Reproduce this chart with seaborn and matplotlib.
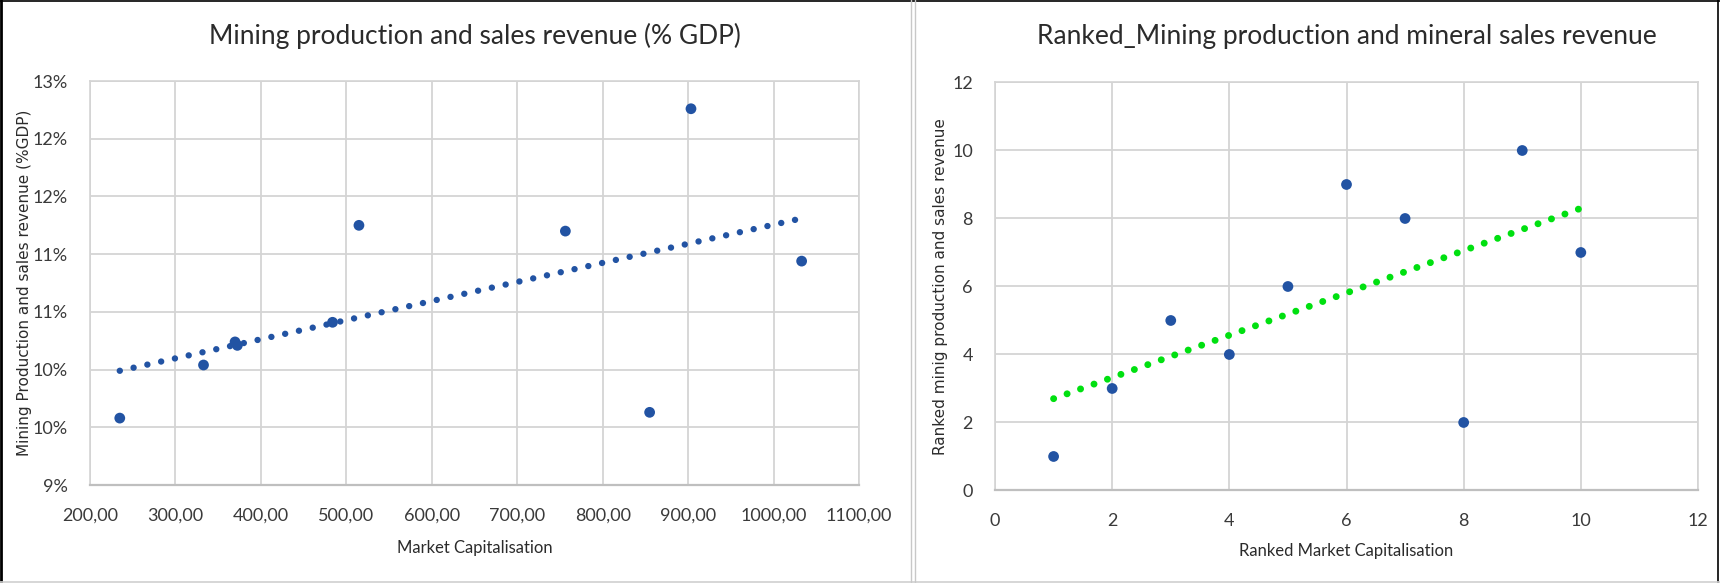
import numpy as np
import pandas as pd
import seaborn as sns
import matplotlib.pyplot as plt
from matplotlib.ticker import FuncFormatter, MultipleLocator
from matplotlib.lines import Line2D

# left chart: raw values
market_cap = [234.9, 332.9, 369.8, 372.5, 483.9, 514.8, 756.4, 855.0, 903.4, 1032.9]
mining_gdp = [9.58, 10.04, 10.24, 10.21, 10.41, 11.25, 11.20, 9.63, 12.26, 10.94]
trend_left_x = [234.9, 1032.9]
trend_left_y = [9.99, 11.31]

# right chart: ranks
rank_cap = [1, 2, 3, 4, 5, 6, 7, 8, 9, 10]
rank_mining = [1, 3, 5, 4, 6, 9, 8, 2, 10, 7]
trend_right_x = [1, 10]
trend_right_y = [2.7, 8.3]

left_df = pd.DataFrame({"cap": market_cap, "gdp": mining_gdp})
right_df = pd.DataFrame({"cap": rank_cap, "gdp": rank_mining})

sns.set_theme(style="white")
plt.rcParams['font.family'] = ['Lato', 'DejaVu Sans']

blue = "#2253A3"
green = "#00E010"
grid_c = "#D4D4D4"
txt = "#2B2B2B"
tick_c = "#3A3A3A"

fig = plt.figure(figsize=(17.2, 5.83), dpi=100)
fig.patch.set_facecolor("white")
ax1 = fig.add_axes([0.0523, 0.168, 0.4471, 0.693])
ax2 = fig.add_axes([0.5785, 0.1587, 0.4087, 0.6998])

# left
sns.scatterplot(data=left_df, x="cap", y="gdp", ax=ax1, color=blue, s=60,
                edgecolor="none", zorder=3)
sns.lineplot(x=trend_left_x, y=trend_left_y, ax=ax1, color=blue, lw=4.6,
             linestyle=(0, (0.01, 2.2)), dash_capstyle="round", zorder=2)
ax1.set_xlim(200, 1100)
ax1.set_ylim(9.0, 12.5)
ax1.xaxis.set_major_locator(MultipleLocator(100))
ax1.yaxis.set_major_locator(MultipleLocator(0.5))
ax1.xaxis.set_major_formatter(FuncFormatter(lambda v, _: f"{v:.2f}".replace(".", ",")))
ax1.yaxis.set_major_formatter(FuncFormatter(lambda v, _: f"{int(np.floor(v + 0.5 + 1e-9))}%"))
ax1.set_title("Mining production and sales revenue (% GDP)", fontsize=19, color=txt, pad=27)
ax1.set_xlabel("Market Capitalisation", fontsize=12, color=txt, labelpad=12)
ax1.set_ylabel("Mining Production and sales revenue (%GDP)", fontsize=11, color=txt,
               family="DejaVu Sans")
ax1.yaxis.set_label_coords(-0.0754, 0.5)

# right
sns.scatterplot(data=right_df, x="cap", y="gdp", ax=ax2, color=blue, s=60,
                edgecolor="none", zorder=3)
sns.lineplot(x=trend_right_x, y=trend_right_y, ax=ax2, color=green, lw=5.0,
             linestyle=(0, (0.01, 2.05)), dash_capstyle="round", zorder=2)
ax2.set_xlim(0, 12)
ax2.set_ylim(0, 12)
ax2.xaxis.set_major_locator(MultipleLocator(2))
ax2.yaxis.set_major_locator(MultipleLocator(2))
ax2.set_title("Ranked_Mining production and mineral sales revenue", fontsize=19, color=txt, pad=28)
ax2.set_xlabel("Ranked Market Capitalisation", fontsize=12, color=txt, labelpad=10)
ax2.set_ylabel("Ranked minig production and sales revenue", fontsize=11, color=txt,
               family="DejaVu Sans")
ax2.yaxis.set_label_coords(-0.0669, 0.5)

for ax in (ax1, ax2):
    ax.grid(True, color=grid_c, lw=1.3)
    ax.set_axisbelow(True)
    ax.tick_params(length=0, labelsize=13, labelcolor=tick_c, pad=16)
    for side, sp in ax.spines.items():
        sp.set_visible(True)
        sp.set_color(grid_c)
        sp.set_linewidth(1.2)
    ax.spines["bottom"].set_color("#BFBFBF")
    ax.spines["bottom"].set_linewidth(1.6)

# outer frame and separator between the two charts
W, H = 1720, 583
def fline(x0, y0, x1, y1, c, lw):
    fig.add_artist(Line2D([x0 / W, x1 / W], [1 - y0 / H, 1 - y1 / H], color=c, lw=lw))

fline(1, 0, 1, H, "black", 2.0)
fline(0, 0.5, W, 0.5, "black", 1.2)
fline(W - 2, 0, W - 2, H, "black", 1.2)
fline(0, H - 1.5, W, H - 1.5, "#D0D0D0", 1.2)
fline(911, 0, 911, H, "#C8C8C8", 1.0)
fline(914.5, 0, 914.5, H, "#C8C8C8", 1.0)

fig.savefig("out.png", dpi=100)
